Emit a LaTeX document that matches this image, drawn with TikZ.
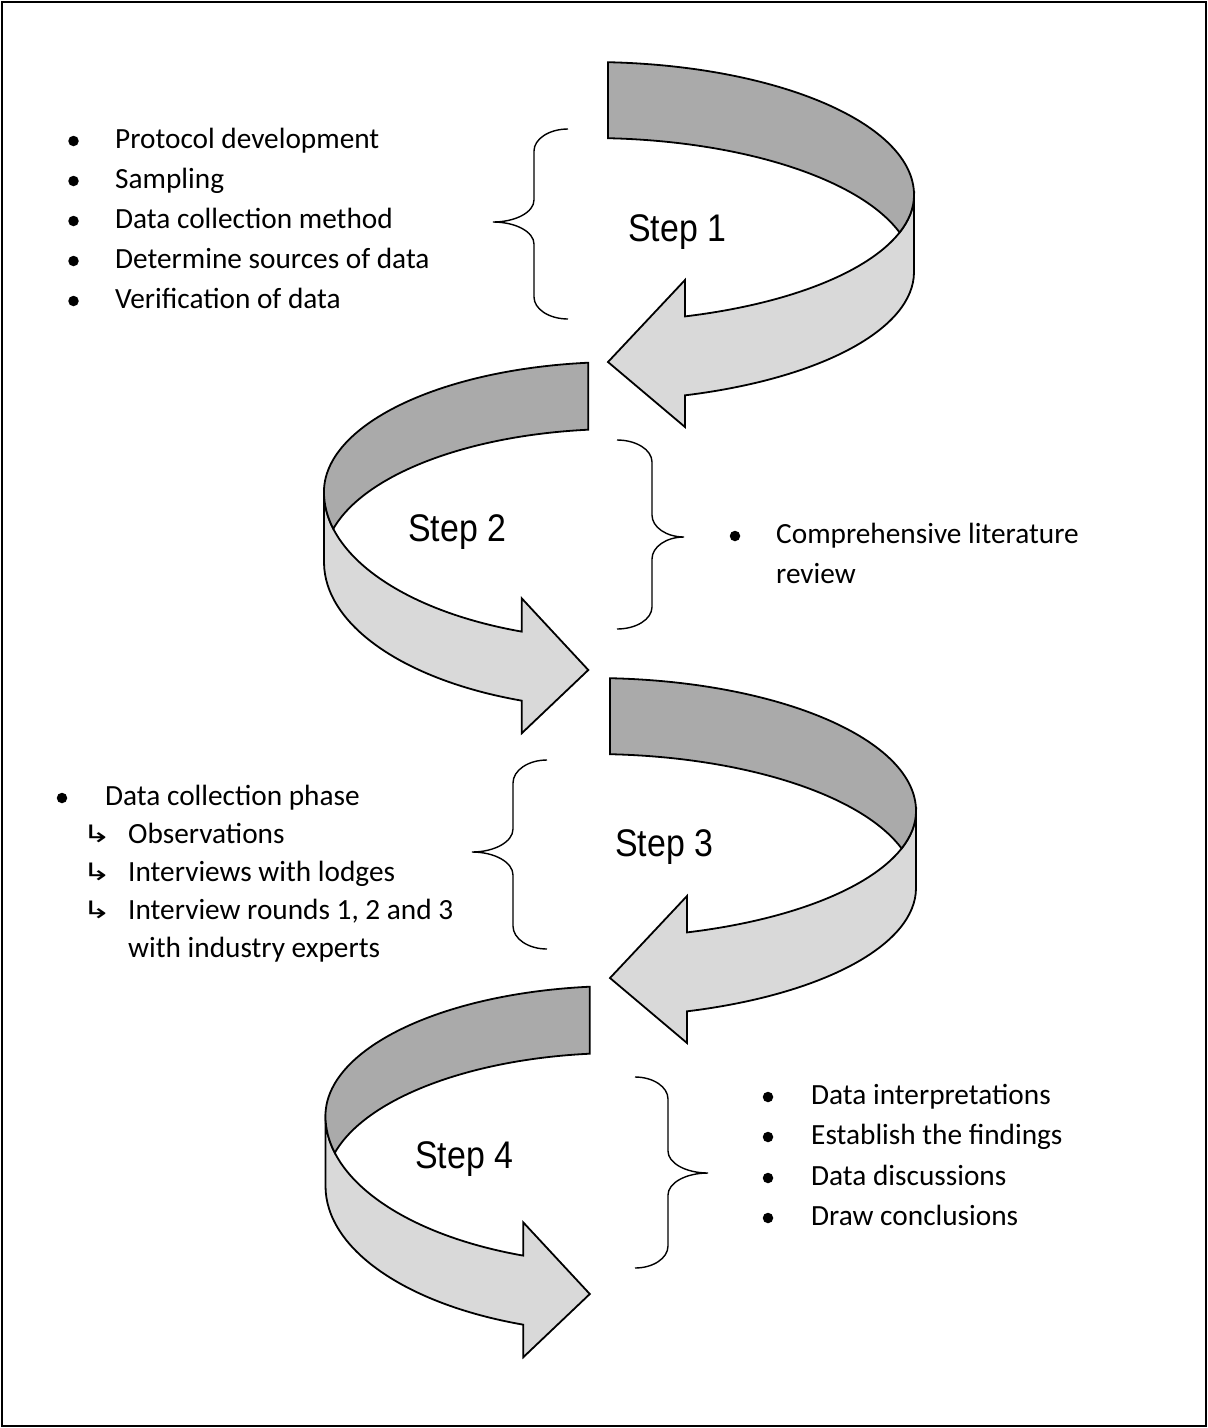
\documentclass[tikz,border=0pt]{standalone}
\usepackage{graphicx}
\usepackage{fontspec}
\setmainfont{Carlito}
\newfontfamily\stepfont{Liberation Sans}
\newfontfamily\arrowfont{DejaVu Sans}
\definecolor{bandback}{RGB}{170,170,170}
\definecolor{bandfront}{RGB}{217,217,217}
\begin{document}
\begin{tikzpicture}[x=1pt,y=-1pt,
  backface/.style={fill=bandback, draw=black, line width=1.8pt},
  frontface/.style={fill=bandfront, draw=black, line width=1.8pt},
  bracestroke/.style={draw=black, line width=1.4pt},
  itemtext/.style={anchor=base west, inner sep=0pt, font=\fontsize{29.3}{39.7}\selectfont},
  dot/.style={circle, fill=black, inner sep=0pt, minimum size=10.5pt},
  subarrow/.style={anchor=base west, inner sep=0pt, font=\arrowfont\fontsize{24}{28}\selectfont},
  steplabel/.style={anchor=base west, inner sep=0pt, font=\stepfont\fontsize{38.5}{44}\selectfont}]

\useasboundingbox (0,0) rectangle (1208,1428);
\draw[line width=2pt] (2,2) rectangle (1206,1426);

% ---------- ribbon arrow turning left (steps 1 and 3) ----------
\newcommand\leftturn{%
  \path[frontface] (914,195) -- (914,272)
    arc[start angle=0, end angle=72.95, x radius=324, y radius=129]
    -- (685,427) -- (608,362) -- (685,280) -- (685,316.4)
    arc[start angle=72.95, end angle=0, x radius=324, y radius=127] -- cycle;
  \path[backface] (608,62.2)
    arc[start angle=-86.82, end angle=0, x radius=324, y radius=133]
    arc[start angle=0, end angle=17.16, x radius=324, y radius=127]
    arc[start angle=-17.16, end angle=-86.82, x radius=324, y radius=134] -- cycle;
}
% ---------- ribbon arrow turning right (steps 2 and 4) ----------
\newcommand\rightturn{%
  \path[frontface] (324,492) -- (324,562)
    arc[start angle=180, end angle=109.4, x radius=296, y radius=147]
    -- (521.7,733.3) -- (588.3,670) -- (521.7,598.3) -- (521.7,631.6)
    arc[start angle=109.4, end angle=180, x radius=296, y radius=148] -- cycle;
  \path[backface] (588.3,362.7)
    arc[start angle=263.86, end angle=180, x radius=296, y radius=130]
    arc[start angle=180, end angle=165.58, x radius=296, y radius=148]
    arc[start angle=194.42, end angle=263.86, x radius=296, y radius=133] -- cycle;
}

\leftturn
\rightturn
\begin{scope}[shift={(2,616)}]\leftturn\end{scope}
\begin{scope}[shift={(1.5,624)}]\rightturn\end{scope}

% ---------- step labels ----------
\node[steplabel] (s1) at (628,241) {\scalebox{0.88}[1]{Step 1}};
\node[steplabel] (s2) at (408,541) {\scalebox{0.88}[1]{Step 2}};
\node[steplabel] (s3) at (615,856) {\scalebox{0.88}[1]{Step 3}};
\node[steplabel] (s4) at (415,1168) {\scalebox{0.88}[1]{Step 4}};

% ---------- braces ----------
% opening brace beside step 1
\path[bracestroke] (568,129)
  arc[start angle=-90, end angle=-180, x radius=34, y radius=22] -- (534,200)
  arc[start angle=0, end angle=90, x radius=41, y radius=22]
  arc[start angle=-90, end angle=0, x radius=41, y radius=22] -- (534,297)
  arc[start angle=180, end angle=90, x radius=34, y radius=22];
% closing brace beside step 2
\path[bracestroke] (617,440)
  arc[start angle=-90, end angle=0, x radius=35, y radius=22] -- (652,515)
  arc[start angle=180, end angle=90, x radius=32, y radius=22]
  arc[start angle=-90, end angle=-180, x radius=32, y radius=22] -- (652,607)
  arc[start angle=0, end angle=90, x radius=35, y radius=22];
% opening brace beside step 3
\path[bracestroke] (547,760)
  arc[start angle=-90, end angle=-180, x radius=34, y radius=23] -- (513,829)
  arc[start angle=0, end angle=90, x radius=41, y radius=23]
  arc[start angle=-90, end angle=0, x radius=41, y radius=23] -- (513,926)
  arc[start angle=180, end angle=90, x radius=34, y radius=23];
% closing brace beside step 4
\path[bracestroke] (635,1077)
  arc[start angle=-90, end angle=0, x radius=33, y radius=22] -- (668,1151)
  arc[start angle=180, end angle=90, x radius=40, y radius=22]
  arc[start angle=-90, end angle=-180, x radius=40, y radius=22] -- (668,1246)
  arc[start angle=0, end angle=90, x radius=33, y radius=22];

% ---------- step 1 list ----------
\node[dot] (b11) at (73.5,141) {};
\node[dot] (b12) at (73.5,181) {};
\node[dot] (b13) at (73.5,221) {};
\node[dot] (b14) at (73.5,261) {};
\node[dot] (b15) at (73.5,301) {};
\node[itemtext] (t11) at (115,148) {Protocol development};
\node[itemtext] (t12) at (115,188) {Sampling};
\node[itemtext] (t13) at (115,228) {Data collection method};
\node[itemtext] (t14) at (115,268) {Determine sources of data};
\node[itemtext] (t15) at (115,308) {Verification of data};

% ---------- step 2 list ----------
\node[dot] (b21) at (735,536) {};
\node[itemtext] (t21) at (776,543) {Comprehensive literature};
\node[itemtext] (t22) at (776,583) {review};

% ---------- step 3 list ----------
\node[dot] (b31) at (62,798) {};
\node[itemtext] (t31) at (105,805) {Data collection phase};
\node[subarrow] (a32) at (82,842) {\scalebox{1.45}[1]{↳}};
\node[subarrow] (a33) at (82,880) {\scalebox{1.45}[1]{↳}};
\node[subarrow] (a34) at (82,918) {\scalebox{1.45}[1]{↳}};
\node[itemtext] (t32) at (128,843) {Observations};
\node[itemtext] (t33) at (128,881) {Interviews with lodges};
\node[itemtext] (t34) at (128,919) {Interview rounds 1, 2 and 3};
\node[itemtext] (t35) at (128,957) {with industry experts};

% ---------- step 4 list ----------
\node[dot] (b41) at (768,1097) {};
\node[dot] (b42) at (768,1137) {};
\node[dot] (b43) at (768,1178) {};
\node[dot] (b44) at (768,1218) {};
\node[itemtext] (t41) at (811,1104) {Data interpretations};
\node[itemtext] (t42) at (811,1144) {Establish the findings};
\node[itemtext] (t43) at (811,1185) {Data discussions};
\node[itemtext] (t44) at (811,1225) {Draw conclusions};
\end{tikzpicture}
\end{document}
